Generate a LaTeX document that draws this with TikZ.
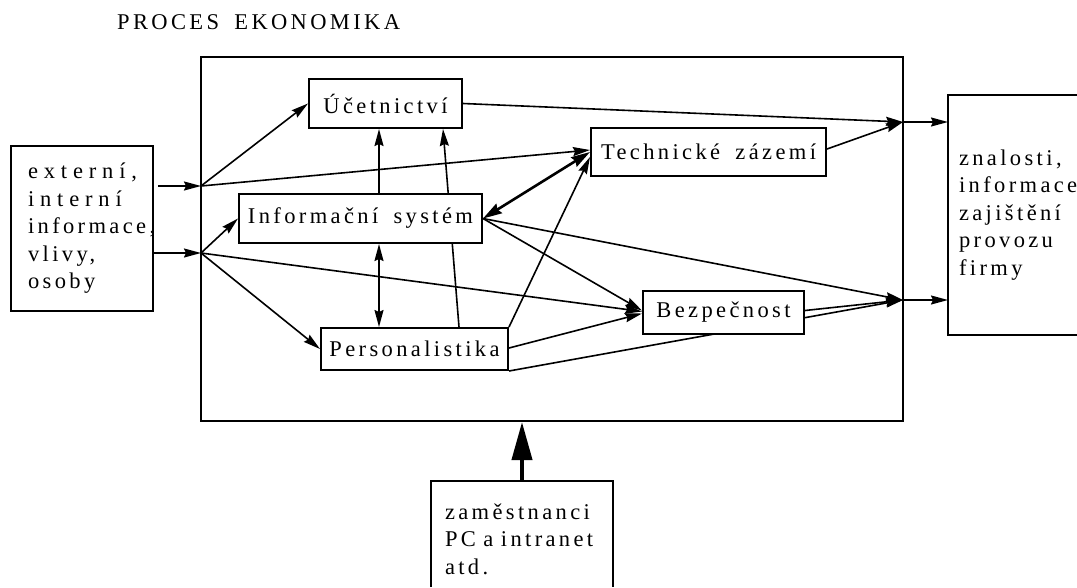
\documentclass[tikz,border=0pt]{standalone}
\usepackage{fontspec}
\setmainfont{Liberation Serif}[LetterSpace=15,WordSpace=1.7]
\usetikzlibrary{arrows.meta,backgrounds}
\newcommand\lblfont{\fontsize{22.5}{27.5}\selectfont}
\newcommand\widesp[1]{{\addfontfeatures{LetterSpace=26}#1}}

\tikzset{
  box/.style={draw, line width=2pt, fill=white, inner sep=0pt,
              font=\lblfont, text=black},
  textbox/.style={box, align=left},
  tip/.tip={Stealth[length=17pt,width=9pt,inset=2pt]},
  arr/.style={line width=1.6pt, -tip},
  dbl/.style={line width=1.6pt, tip-tip},
  thickdbl/.style={line width=2.6pt,
     {Stealth[length=19pt,width=11pt,inset=2pt]}-{Stealth[length=19pt,width=11pt,inset=2pt]}},
  big/.style={line width=4pt, -{Triangle[length=38pt,width=20pt]}}
}

\begin{document}
\begin{tikzpicture}[x=1pt,y=-1pt]
\useasboundingbox (0,0) rectangle (1077,587);
\coordinate (pageBR) at (1077,587);

% title
\node[anchor=base west, inner sep=0pt, font=\lblfont, text=black] (title) at (117,29) {PROCES EKONOMIKA};

% enclosing process frame
\node[box, fill=none, minimum width=702pt, minimum height=364pt] (frame) at (552,239) {};

% inputs on the left
\node[textbox, minimum width=142pt, minimum height=165pt, text width=108pt, inner xsep=17pt]
  (src) at (82,228.5) {\widesp{externí,}\\ \widesp{interní}\\ informace,\\ vlivy,\\ osoby};

% outputs on the right (open towards the edge)
\node[textbox, draw=none, fill=none, minimum width=128pt, minimum height=238pt, text width=108pt, inner xsep=10pt]
  (out) at (1013,215) {znalosti,\\ informace\\ zajištění\\ provozu\\ firmy};
\draw[line width=2pt] (out.north west -| pageBR) -- (out.north west) -- (out.south west) -- (out.south west -| pageBR);

% resources at the bottom (open towards the edge)
\node[textbox, draw=none, fill=none, minimum width=180pt, minimum height=114pt, text width=154pt, inner xsep=13pt]
  (low) at (522,539) {zaměstnanci\\ PC a intranet\\ atd.};
\draw[line width=2pt] (low.north west |- pageBR) -- (low.north west) -- (low.north east) -- (low.north east |- pageBR);

% inner blocks
\node[box, minimum width=153pt, minimum height=49pt] (U)  at (385.5,103.5) {Účetnictví};
\node[box, minimum width=243pt, minimum height=49pt] (IS) at (360.5,218.5) {Informační systém};
\node[box, minimum width=235pt, minimum height=48pt] (TZ) at (708.5,152) {Technické zázemí};
\node[box, minimum width=161pt, minimum height=43pt] (B)  at (723.5,312.5) {Bezpečnost};
\node[box, minimum width=187pt, minimum height=42pt] (P)  at (414.5,349) {Personalistika};

% junction points on the frame
\coordinate (inA0) at (158,186);
\coordinate (inA)  at (201,186);
\coordinate (inB)  at (201,253);
\coordinate (outA) at (903,122);
\coordinate (outB) at (903,300);

\begin{scope}[on background layer]
  % into the frame
  \draw[arr] (inA0) -- (inA);
  \draw[arr] (src.east |- inB) -- (inB);
  \draw[arr] (inA) -- (U.west);
  \draw[arr] (inA) -- ([yshift=2pt]TZ.west);
  \draw[arr] (inB) -- (IS.west);
  \draw[arr] (inB) -- ([yshift=1pt]B.west);
  \draw[arr] (inB) -- (P.west);
  % between blocks
  \draw[arr] ([xshift=18.5pt]IS.north) -- ([xshift=18.5pt]IS.north |- U.south);
  \draw[dbl] ([xshift=18.5pt]IS.south) -- ([xshift=18.5pt]IS.south |- P.north);
  \draw[arr] ([xshift=44.5pt]P.north) -- ([xshift=57.5pt]U.south);
  \draw[thickdbl] (IS.east) -- (TZ.west);
  \draw[arr] (P.north east) -- ([yshift=-5pt]TZ.west);
  \draw[arr] (IS.east) -- ([yshift=2pt]B.west);
  \draw[arr] ([yshift=1pt]P.east) -- ([yshift=-1pt]B.west);
  % towards the outputs
  \draw[arr] (IS.east) -- (outB);
  \draw[arr] (P.south east) -- (outB);
  \draw[arr] ([yshift=2pt]B.east) -- (outB);
  \draw[arr] (U.east) -- (outA);
  \draw[arr] ([yshift=3pt]TZ.east) -- (outA);
  \draw[arr] (outA) -- (out.west |- outA);
  \draw[arr] (outB) -- (out.west |- outB);
  % resources feeding the process
  \draw[big] (low.north) -- (low.north |- frame.south);
\end{scope}
\end{tikzpicture}
\end{document}
